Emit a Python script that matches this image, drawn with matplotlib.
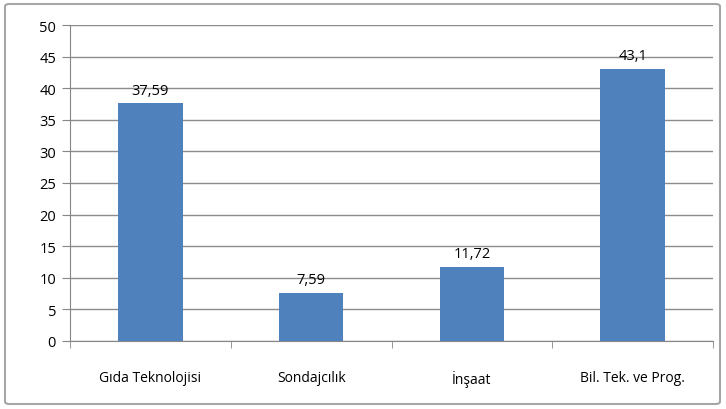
import matplotlib
matplotlib.use("Agg")
import matplotlib.pyplot as plt
from matplotlib.patches import FancyBboxPatch
import numpy as np

categories = ["Gıda Teknolojisi", "Sondajcılık", "İnşaat", "Bil. Tek. ve Prog."]
values = [37.59, 7.59, 11.72, 43.1]
value_labels = ["37,59", "7,59", "11,72", "43,1"]
yticks = [0, 5, 10, 15, 20, 25, 30, 35, 40, 45, 50]

W, H = 726, 410
fig = plt.figure(figsize=(W / 100, H / 100), dpi=100)
plt.rcParams['font.family'] = ['Open Sans', 'DejaVu Sans']

# outer border
border = FancyBboxPatch((5 / W, 5 / H), 715 / W, 400 / H,
                        boxstyle="round,pad=0,rounding_size=0.006",
                        transform=fig.transFigure, fill=False,
                        edgecolor="#a6a6a6", linewidth=1.5)
fig.patches.append(border)

left, right, top, bottom = 70, 713, 26, 342
ax = fig.add_axes([left / W, 1 - bottom / H, (right - left) / W, (bottom - top) / H])

x = np.arange(len(categories))
ax.bar(x, values, width=0.4, color="#4f81bd", zorder=3)
for xi, v, lab in zip(x, values, value_labels):
    ax.text(xi, v + 0.9, lab, ha="center", va="bottom", fontsize=10.5, color="#000000")

ax.set_xlim(-0.5, len(categories) - 0.5)
ax.set_ylim(0, 50)
ax.set_yticks(yticks)
ax.set_yticklabels([str(t) for t in yticks], fontsize=10.5, color="#000000")
ax.set_xticks(x)
ax.set_xticklabels(categories, fontsize=10, color="#000000")
ax.tick_params(axis="x", length=0, pad=21)
ax.set_xticks(np.arange(-0.5, len(categories)), minor=True)
ax.tick_params(axis="x", which="minor", length=5, color="#868686", direction="out")
ax.tick_params(axis="y", length=6, color="#868686", direction="out", pad=4)
ax.yaxis.grid(True, color="#8c8c8c", linewidth=1.0, zorder=0)
for s in ["top", "right"]:
    ax.spines[s].set_visible(False)
ax.spines["left"].set_color("#868686")
ax.spines["bottom"].set_color("#868686")
ax.set_axisbelow(True)

fig.savefig("out.png", dpi=100)
